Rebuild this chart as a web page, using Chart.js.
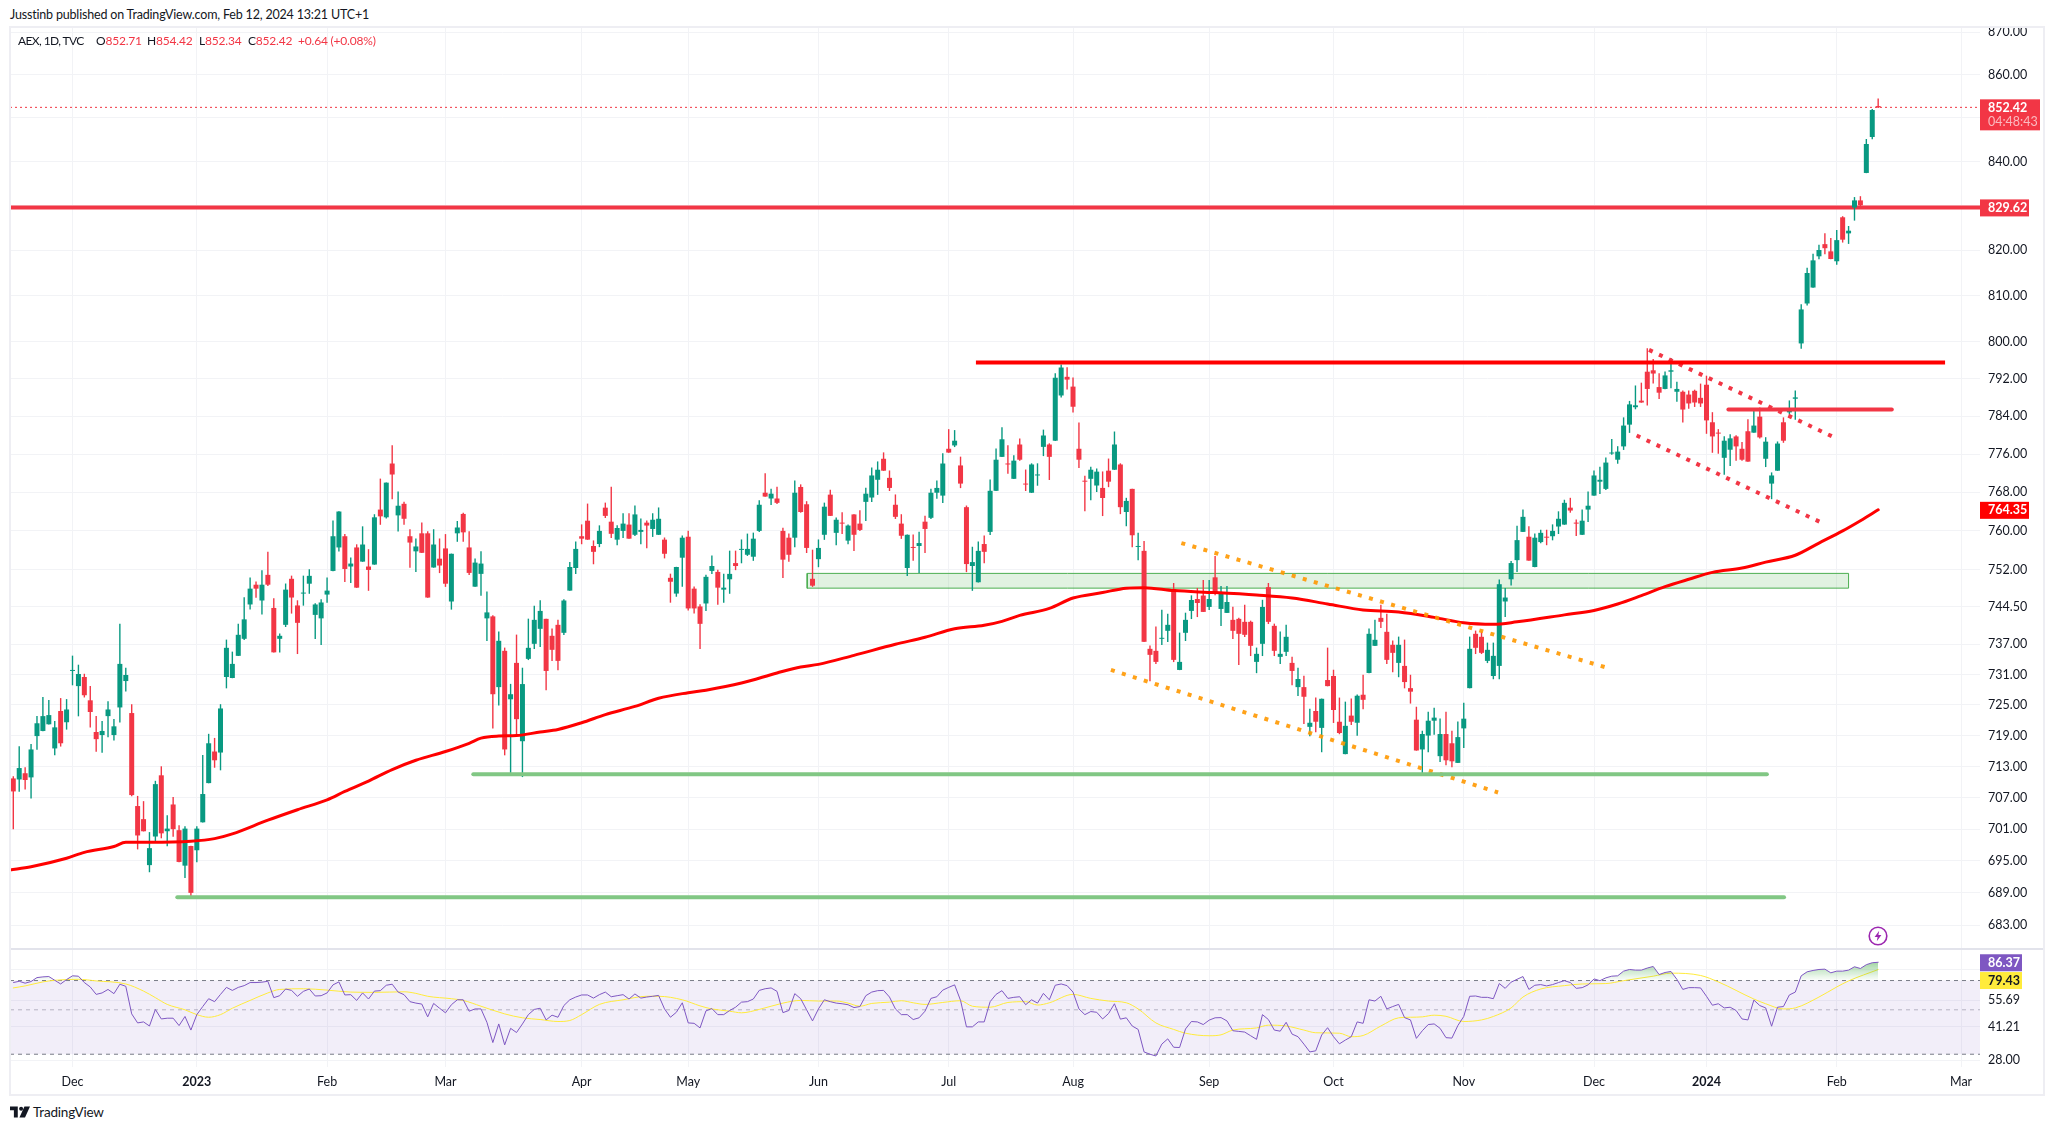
<!DOCTYPE html>
<html>
<head>
<meta charset="utf-8">
<title>AEX 1D</title>
<script src="https://cdn.jsdelivr.net/npm/chart.js@4/dist/chart.umd.js"></script>
<style>
  html, body { margin: 0; padding: 0; background: #fff; width: 2054px; height: 1129px; overflow: hidden; }
  body { font-family: Lato, "Open Sans", sans-serif; color: #131722; }
  canvas { position: absolute; display: block; }
  .txt { position: absolute; white-space: nowrap; font-size: 12px; line-height: 16px; letter-spacing: -0.2px; }
  .red { color: #F23645; }
  #frame { position: absolute; left: 9px; top: 26px; width: 2036px; height: 1070px; box-sizing: border-box; border: 2px solid #eeeef3; pointer-events: none; }
  #sep { position: absolute; left: 11px; top: 948px; width: 2032px; height: 2px; background: #e2e3eb; }
</style>
</head>
<body>
<div class="txt" style="left:10px;top:7px;font-size:12.5px;letter-spacing:-0.18px">Jusstinb published on TradingView.com, Feb 12, 2024 13:21 UTC+1</div>
<canvas id="priceChart" width="2034" height="938" style="left:10px;top:19px"></canvas>
<canvas id="rsiChart" width="2034" height="154" style="left:10px;top:941px"></canvas>
<div id="sep"></div>
<div id="frame"></div>
<div class="txt" style="left:18px;top:33px;letter-spacing:-0.6px">AEX, 1D, TVC</div>
<div class="txt" style="left:96px;top:33px">O<span class="red">852.71</span></div>
<div class="txt" style="left:147px;top:33px">H<span class="red">854.42</span></div>
<div class="txt" style="left:199px;top:33px">L<span class="red">852.34</span></div>
<div class="txt" style="left:248px;top:33px">C<span class="red">852.42</span></div>
<div class="txt red" style="left:298px;top:33px">+0.64 (+0.08%)</div>
<svg style="position:absolute;left:1868px;top:926px" width="20" height="20" viewBox="0 0 20 20">
  <circle cx="10" cy="10" r="8.8" fill="#fff" stroke="#9C27B0" stroke-width="1.6"/>
  <path d="M11.2 4.8 L6.6 11 H9.6 L8.8 15.2 L13.4 9 H10.4 Z" fill="#9C27B0"/>
</svg>
<svg style="position:absolute;left:10px;top:1106px" width="20" height="12" viewBox="0 0 36 20">
  <path d="M0 0 H14 V20 H7 V7 H0 Z M26 0 H36 L27 20 H17 Z" fill="#131722"/>
  <circle cx="20" cy="4" r="3.6" fill="#131722"/>
</svg>
<div class="txt" style="left:33px;top:1104px;font-size:13.5px">TradingView</div>
<script>
// AEX daily candles, one entry per trading session, oldest first
const opens = [
  710.7,710.5,711.7,710.9,718.9,719.9,721.2,716.5,723.8,721.6,
  731.7,728.7,730.5,725.9,719.7,719.1,722.8,719.1,724.5,729.7,
  723.4,705.4,702.9,694.2,699.6,711.3,700.6,705.7,700.8,694.1,
  697.8,697.0,702.3,709.8,715.9,715.7,730.5,730.3,734.7,738.1,
  745.0,749.0,745.8,751.0,744.3,738.1,740.9,750.2,744.8,747.2,
  749.2,742.9,742.2,747.0,751.8,756.6,758.9,752.7,756.6,753.7,
  752.7,753.1,764.4,762.8,774.0,763.2,765.6,758.9,755.8,759.5,
  759.5,752.5,754.3,756.4,745.6,759.5,763.5,756.6,748.6,751.2,
  742.2,742.6,728.5,735.7,726.1,733.3,717.9,734.1,737.1,740.1,
  742.1,738.7,740.9,739.3,747.8,752.4,758.9,762.1,756.9,757.3,
  764.8,761.9,758.2,760.0,761.3,759.2,759.8,761.7,760.4,759.2,
  758.2,750.4,747.2,754.5,758.8,748.2,744.6,745.2,751.8,751.6,
  748.0,750.1,753.4,756.1,755.1,754.7,760.0,767.9,766.7,766.7,
  760.0,758.6,758.6,769.1,765.5,750.2,754.2,759.2,767.5,759.6,
  761.7,758.0,763.4,761.5,766.0,766.9,770.6,775.0,771.0,765.4,
  761.5,752.4,756.7,756.9,761.9,762.7,767.9,767.3,777.1,777.8,
  773.6,764.9,752.8,749.5,757.3,759.8,768.3,775.4,774.0,770.8,
  778.0,769.8,767.9,771.5,777.5,778.0,778.8,788.4,792.4,790.3,
  777.1,770.4,770.8,769.4,768.9,772.5,772.7,773.8,763.9,768.7,
  756.7,755.9,736.1,735.7,738.1,739.7,748.1,731.9,739.3,743.7,
  746.1,746.8,744.5,750.5,744.1,743.3,741.9,742.1,741.5,741.5,
  733.5,737.1,748.5,740.7,734.5,735.5,733.3,728.5,728.5,720.7,
  723.8,720.5,729.9,730.7,721.7,715.4,722.9,721.5,727.0,731.3,
  736.7,742.3,739.5,736.9,733.3,732.7,728.3,722.1,716.3,719.0,
  721.9,715.0,719.3,717.5,713.7,720.4,728.3,739.1,738.5,733.7,
  730.7,732.7,745.6,750.1,754.0,759.8,758.8,752.6,757.7,758.8,
  758.9,760.9,761.3,764.8,761.7,759.2,764.4,767.3,770.2,768.7,
  776.1,774.8,777.6,782.2,785.9,787.3,793.5,793.8,790.2,789.8,
  793.5,789.2,789.2,788.6,789.4,787.9,790.7,782.7,780.5,775.2,
  776.9,779.7,777.1,780.8,780.5,783.9,775.0,769.8,772.5,782.7,
  784.8,787.7,799.6,808.3,811.8,818.7,821.4,819.8,817.6,827.4,
  823.8,829.6,831.2,837.4,845.6,852.71
];
const highs = [
  711.1,716.9,712.8,717.3,722.8,726.5,725.9,721.8,726.3,726.1,
  734.7,732.9,731.1,728.7,722.8,721.8,725.7,722.2,741.1,732.3,
  725.1,707.3,706.3,700.4,710.2,713.0,703.6,707.1,701.7,701.5,
  697.8,701.5,715.2,719.3,718.5,725.1,737.9,735.5,741.1,746.4,
  750.4,749.6,751.9,755.7,746.2,739.1,749.2,750.8,745.8,750.8,
  752.1,745.2,746.0,750.4,762.1,764.0,759.3,754.5,757.2,760.9,
  756.2,763.4,770.8,770.0,777.8,768.1,766.0,760.3,758.4,761.7,
  759.9,760.3,758.4,759.3,755.3,762.0,763.7,759.9,754.3,755.8,
  747.6,742.8,739.5,736.3,729.1,738.9,732.3,742.1,744.7,745.8,
  742.1,740.1,741.9,746.0,753.6,757.8,761.3,765.6,758.0,761.1,
  765.8,769.1,761.1,763.6,763.6,765.2,762.5,762.1,763.6,764.8,
  758.6,751.2,752.6,759.0,760.0,748.6,745.0,751.0,754.9,752.0,
  751.2,755.9,755.9,758.2,759.4,759.6,766.3,771.9,768.7,769.1,
  760.6,759.4,770.4,769.6,766.1,756.1,758.2,765.8,768.5,762.7,
  763.8,761.3,763.4,764.2,768.9,773.1,774.4,776.3,772.5,767.5,
  763.4,759.2,759.2,759.8,763.1,768.7,770.4,776.1,781.2,781.0,
  775.4,765.2,756.7,757.8,759.0,770.6,777.1,781.6,777.8,775.7,
  779.2,772.7,774.0,774.0,781.1,778.2,793.1,795.0,794.4,792.2,
  782.6,771.4,773.3,772.9,772.3,775.0,780.7,774.0,766.8,768.7,
  759.6,757.9,736.7,740.5,743.9,743.1,749.3,739.3,743.3,746.8,
  748.3,749.9,749.9,754.8,748.7,748.7,744.5,742.3,744.9,741.7,
  736.3,745.9,749.3,741.1,739.5,740.9,734.5,732.3,730.7,724.2,
  726.4,726.2,736.3,731.9,726.4,725.6,726.2,727.0,730.9,740.1,
  741.9,744.9,743.1,737.7,738.5,737.9,730.9,724.6,719.9,723.6,
  724.4,722.3,723.6,719.9,721.7,725.4,738.5,739.7,739.5,737.3,
  737.3,750.0,748.3,753.8,761.0,764.4,760.9,759.4,760.2,760.2,
  761.3,764.0,766.4,766.8,762.3,764.4,768.1,772.5,773.3,775.2,
  779.1,777.6,783.7,787.2,790.5,791.1,798.5,796.2,793.1,793.5,
  796.4,791.3,789.4,789.4,789.6,790.9,792.6,784.8,781.2,779.7,
  780.1,779.9,778.5,783.3,785.4,785.8,779.5,772.1,778.6,783.7,
  787.3,789.4,808.1,816.1,819.2,821.2,823.8,822.7,824.5,827.6,
  825.4,831.9,832.1,845.1,852.0,854.42
];
const lows = [
  701.0,708.2,708.6,706.9,716.3,719.9,721.2,715.2,716.9,720.2,
  728.9,722.8,726.5,720.6,715.9,715.7,718.7,718.1,721.6,727.7,
  707.3,697.2,700.6,692.9,698.7,699.3,697.8,699.6,694.8,691.8,
  688.4,694.8,702.3,709.8,712.8,712.3,728.3,730.3,734.7,737.9,
  744.0,746.4,743.0,748.8,735.4,735.4,740.5,743.2,735.1,744.8,
  747.2,738.1,736.9,745.4,751.8,755.8,749.6,749.4,748.4,753.7,
  747.8,753.1,761.3,762.6,766.6,759.9,761.3,752.5,751.6,755.5,
  746.4,752.5,751.4,748.6,744.0,757.8,757.8,751.0,748.6,746.8,
  737.7,720.4,724.9,715.2,711.8,719.2,711.0,733.9,736.1,736.5,
  727.9,733.7,731.9,738.9,747.8,751.2,757.3,758.2,753.2,756.7,
  762.7,758.6,757.1,758.6,758.4,759.0,757.3,756.5,758.8,759.2,
  754.4,745.4,746.6,748.6,743.8,743.2,736.1,743.7,751.2,745.0,
  745.4,747.2,752.0,753.4,754.9,753.9,759.8,767.1,765.4,765.6,
  750.4,753.7,756.7,763.8,755.5,748.6,752.6,758.2,763.1,757.1,
  759.4,757.3,755.9,760.0,762.1,766.0,767.5,772.5,768.3,762.5,
  758.4,750.8,753.9,751.4,755.5,762.5,766.7,765.8,776.3,777.5,
  768.9,751.6,747.8,749.5,753.4,759.2,768.3,775.4,771.9,770.8,
  774.6,768.3,767.9,769.4,775.6,770.6,778.8,788.0,789.7,784.8,
  773.1,764.1,766.4,768.1,763.1,769.1,772.7,763.5,761.0,756.7,
  754.0,737.5,729.7,733.1,736.9,737.5,733.5,731.9,737.7,742.1,
  742.5,743.5,743.9,746.9,740.7,743.3,738.1,732.9,738.5,734.7,
  731.3,734.7,741.1,734.7,733.1,734.7,728.9,726.8,721.3,718.9,
  719.7,715.8,728.7,721.5,719.3,715.4,721.1,719.0,724.2,731.3,
  736.7,740.3,733.1,731.5,730.5,728.3,725.3,716.1,711.8,715.8,
  719.2,713.9,713.3,712.9,713.7,716.6,728.3,735.1,735.1,733.3,
  730.1,730.1,742.5,748.9,751.6,759.8,753.9,752.6,757.5,757.1,
  758.1,759.4,761.3,763.8,759.0,759.2,761.9,767.3,767.7,768.5,
  775.9,774.0,776.9,780.5,785.5,786.9,786.3,791.0,787.7,789.8,
  790.0,787.1,782.7,785.6,786.0,786.0,780.3,776.3,776.1,771.7,
  773.5,774.6,774.6,774.4,780.5,779.3,773.3,766.6,772.5,778.4,
  784.4,783.3,798.5,807.9,811.8,818.1,819.2,818.1,816.9,821.8,
  821.5,826.7,829.6,837.4,845.1,852.34
];
const closes = [
  708.2,712.7,710.4,716.3,721.4,722.8,723.0,720.6,717.5,724.1,
  731.9,731.1,726.9,723.6,718.3,719.9,724.1,720.8,733.1,730.9,
  707.5,699.8,700.6,697.4,709.6,700.2,701.1,701.0,694.8,701.1,
  689.0,701.1,707.7,717.5,714.2,724.3,736.3,733.1,738.9,742.0,
  748.2,748.2,749.0,749.0,735.4,738.7,748.0,746.4,741.3,747.4,
  750.8,745.0,745.4,747.8,758.9,764.0,752.2,753.3,748.4,757.2,
  752.0,762.8,763.0,770.0,771.7,765.2,762.5,757.6,756.8,755.5,
  746.4,757.2,752.9,749.2,755.3,760.7,759.7,751.4,753.5,753.3,
  743.4,727.1,737.7,716.3,727.1,722.2,729.1,736.3,741.9,743.7,
  731.7,735.9,733.7,745.8,752.6,756.3,758.4,758.2,755.7,760.0,
  763.1,759.4,760.6,761.5,758.4,763.4,760.2,761.1,762.3,762.5,
  755.3,749.6,752.6,758.6,744.2,744.2,741.1,750.6,752.8,748.4,
  748.4,751.2,752.8,756.3,756.3,758.4,765.4,767.1,767.7,765.8,
  754.1,755.1,767.9,763.9,756.5,748.8,756.5,765.0,763.1,762.3,
  761.5,761.1,759.2,760.2,767.7,771.5,772.7,772.5,768.9,762.9,
  759.0,759.2,756.5,757.5,760.4,767.9,768.9,774.0,776.3,778.8,
  769.8,753.2,753.6,755.9,755.7,768.3,774.8,779.1,773.8,774.6,
  774.8,769.6,773.8,771.7,779.9,775.4,792.2,794.4,791.8,786.0,
  774.8,770.2,772.7,772.3,766.8,770.2,778.0,764.9,766.2,759.1,
  756.9,737.5,734.9,733.5,738.3,740.9,733.9,733.5,741.9,745.9,
  745.3,743.5,746.1,747.3,747.3,745.5,739.7,739.1,738.9,736.7,
  735.1,744.5,741.5,735.7,735.1,738.5,731.7,730.1,726.6,721.5,
  721.7,726.2,728.7,724.0,719.5,720.9,721.7,726.8,726.0,739.1,
  737.9,741.5,733.9,735.3,736.9,729.5,727.6,716.1,719.3,721.9,
  722.5,719.3,714.2,714.0,718.7,722.3,736.1,736.3,735.3,735.9,
  734.7,749.1,746.4,753.4,758.1,762.9,753.9,758.6,759.6,758.6,
  760.0,762.5,765.8,764.2,761.5,762.1,765.2,771.5,770.6,774.2,
  776.3,776.5,782.0,786.5,786.3,786.9,789.8,793.1,789.0,792.7,
  793.8,789.8,785.4,786.7,786.9,786.7,783.1,779.7,780.3,778.8,
  779.3,777.6,774.8,774.4,782.0,779.5,778.6,771.5,778.2,778.8,
  785.6,788.0,807.0,815.0,817.8,820.1,820.5,818.1,822.3,822.4,
  824.4,831.2,830.1,844.0,851.8,852.42
];

// 200 day average, read at a handful of sessions along the curve
const emaBars = [-0.557,3,9,12,17,19,23,30,34,37,43,48,53,56,60,64,68,73,77,79,82,85,89,92,96,100,105,109,114,117,123,129,133,136,142,149,154,159,164,167,170,175,179,184,188,191,196,203,210,216,222,228,234,240,245,250,254,262,267,271,275,279,283,287,292,296,301,305,309,312,315];
const emaValues = [693.3,693.9,695.5,696.6,697.7,698.5,698.5,698.7,699.2,700.1,702.7,704.7,706.6,708.2,710.2,712.4,714.2,715.9,717.5,718.5,718.9,719.0,719.7,720.2,721.5,723.1,724.7,726.3,727.4,727.9,729.3,731.3,732.5,733.0,734.8,737.0,738.4,740.1,740.8,741.6,742.8,744.2,746.3,747.4,748.3,748.4,747.8,747.4,746.9,746.3,745.1,743.9,743.5,742.4,741.3,741.0,741.5,742.9,743.8,745.1,746.8,748.6,750.1,751.5,752.4,753.6,755.0,757.5,760.0,762.1,764.35];

// RSI(14), one value per session
const rsiValues = [
  68.4,69.4,67.9,69.2,72.4,73.0,73.3,70.2,67.3,70.8,
  73.9,73.6,68.4,65.0,59.7,60.7,63.2,60.2,67.1,65.5,
  47.7,43.0,43.5,41.5,50.2,45.0,45.4,45.4,41.7,46.3,
  39.6,47.3,51.9,56.8,54.9,59.7,64.7,62.5,64.7,66.0,
  68.4,68.4,68.7,69.4,57.5,58.8,63.5,62.5,58.4,61.8,
  63.5,58.6,58.8,60.7,66.6,68.9,59.3,59.5,55.7,60.7,
  56.6,62.0,62.3,66.3,67.1,61.3,59.5,54.9,54.0,53.4,
  46.1,53.8,50.9,48.3,53.0,56.1,56.1,49.2,50.5,50.5,
  43.3,34.3,42.5,33.4,40.4,38.5,42.5,47.3,50.2,50.9,
  44.5,47.0,45.9,52.5,56.1,57.9,59.3,59.3,57.2,59.5,
  61.3,58.1,58.8,59.5,56.6,60.0,57.2,57.9,58.4,59.0,
  50.5,45.9,48.6,54.2,43.0,42.8,40.6,49.4,50.7,47.3,
  47.3,49.6,51.5,54.6,54.9,56.6,62.5,63.7,64.3,61.8,
  48.4,49.6,60.2,56.8,50.0,44.0,50.5,56.1,54.9,54.0,
  53.6,53.0,51.3,51.9,58.8,61.3,62.3,62.5,57.9,50.5,
  47.3,47.3,44.7,45.6,49.2,57.0,58.1,62.7,64.7,66.6,
  55.7,41.1,41.1,43.5,43.5,54.9,59.7,62.3,57.0,57.7,
  58.1,53.0,56.1,54.0,60.4,56.1,66.3,67.3,66.0,61.3,
  50.5,47.3,49.0,48.6,45.0,47.9,53.6,44.9,45.6,41.5,
  39.9,30.8,30.0,29.4,33.7,35.8,32.5,32.4,40.1,43.7,
  43.5,42.2,44.4,45.6,45.7,44.0,39.3,39.0,38.7,37.1,
  35.6,47.3,44.7,39.6,39.1,43.3,37.8,36.7,33.7,30.8,
  31.2,37.4,40.7,36.7,33.8,35.3,36.7,43.5,42.8,56.1,
  55.3,58.4,50.5,51.9,53.2,45.7,44.5,36.0,39.3,42.2,
  42.5,40.4,36.3,36.1,41.7,46.3,58.4,58.6,57.7,57.7,
  56.8,67.6,64.0,68.7,71.0,73.3,63.2,66.3,66.8,65.8,
  66.8,68.4,69.9,68.4,64.0,64.5,66.6,71.3,69.9,72.2,
  73.6,73.9,78.0,79.5,78.9,78.9,80.8,82.3,75.0,76.8,
  77.7,71.0,63.2,64.5,64.5,64.3,58.4,52.7,53.6,51.1,
  51.5,49.6,45.0,44.5,55.9,52.5,51.1,41.4,51.5,51.9,
  59.3,61.3,73.9,77.4,78.6,79.5,79.8,76.5,78.0,78.0,
  78.9,82.0,80.4,84.0,85.9,86.37
];
// smoothing line of the RSI
const rsiMaBars = [0,2,5,7,11,14,19,22,24,26,29,31,33,35,37,40,43,45,49,53,57,61,66,68,70,74,76,79,83,86,89,92,94,96,99,103,107,109,113,116,118,121,123,126,130,133,136,139,141,143,145,148,150,152,154,157,160,162,165,168,171,173,175,179,182,185,188,190,193,196,198,202,204,206,210,212,215,218,220,224,226,228,231,234,236,238,240,242,245,248,250,253,255,258,262,265,269,272,277,280,285,288,294,296,299,301,305,308,310,315];
const rsiMaValues = [64.3,65.8,68.9,70.2,71.0,69.7,67.3,62.0,57.5,53.2,50.0,47.3,45.9,47.3,50.9,55.7,60.7,63.2,63.7,62.7,61.3,61.1,61.5,60.4,58.4,56.8,55.7,52.1,47.7,45.6,44.7,43.7,44.2,47.3,53.2,56.1,58.4,58.4,56.1,52.3,50.5,49.2,48.3,50.2,54.0,55.7,55.3,55.3,54.0,52.1,53.8,54.6,55.5,54.2,53.2,54.4,55.5,52.1,51.5,54.4,54.9,52.8,54.2,59.7,57.0,55.3,54.2,50.5,43.0,39.9,38.2,37.1,37.5,39.6,40.6,41.9,41.5,39.6,38.4,38.2,36.7,37.2,41.5,45.6,45.9,46.1,47.0,46.4,43.7,44.5,46.3,51.1,57.9,63.5,66.0,67.3,67.6,69.9,73.6,76.2,74.2,68.9,56.6,53.6,50.5,51.1,57.9,65.0,69.7,79.43];

// drawn levels and trend lines: [firstBar, lastBar] and [firstPrice, lastPrice]
const resistanceHighBars = [162.6, 326.3];
const resistanceHighPrices = [795.5, 795.5];
const resistanceShortBars = [289.7, 317.3];
const resistanceShortPrices = [785.4, 785.4];
const athLevel = 829.62;
const lastPrice = 852.42;
const supportUpperBars = [77.7, 296.2];
const supportUpperPrices = [711.5, 711.5];
const supportLowerBars = [27.7, 299.1];
const supportLowerPrices = [688.2, 688.2];
const zoneBars = [134.1, 310];
const zonePrices = [748.3, 751.3];
const orangeUpperBars = [197.3, 269.9];
const orangeUpperPrices = [757.5, 732.1];
const orangeLowerBars = [185.4, 250.8];
const orangeLowerPrices = [731.9, 708.0];
const redUpperBars = [276.3, 307.6];
const redUpperPrices = [798.2, 779.5];
const redLowerBars = [274.2, 305.6];
const redLowerPrices = [779.9, 761.6];

// axes
const priceTicks = [870,860,850,840,830,820,810,800,792,784,776,768,760,752,744.5,737,731,725,719,713,707,701,695,689,683];
const priceTicksUnderTags = [850, 830];
const rsiTicks = [79.43, 55.69, 41.21, 28];
const rsiTicksUnderTags = [79.43];
const monthBars = [10,31,53,73,96,114,136,158,179,202,223,245,267,286,308,329];
const monthLabels = ['Dec','2023','Feb','Mar','Apr','May','Jun','Jul','Aug','Sep','Oct','Nov','Dec','2024','Feb','Mar'];

const GREEN = '#089981';
const RED = '#F23645';
const GRID = '#f2f3f6';
const AXIS_FONT = 'Lato, "Open Sans", sans-serif';
const BAR_MIN = -0.557;
const BAR_MAX = 332.2;

const bars = opens.map((_, i) => i);
const candleColors = bars.map(i => (closes[i] >= opens[i] ? GREEN : RED));
const toPoints = (xs, ys) => xs.map((x, i) => ({ x, y: ys[i] }));

function lineSet(xs, ys, color, width, extra) {
  return Object.assign({
    type: 'line',
    data: toPoints(xs, ys),
    borderColor: color,
    backgroundColor: color,
    borderWidth: width,
    pointRadius: 0,
    tension: 0,
    fill: false,
    order: 2,
    borderCapStyle: 'round'
  }, extra || {});
}

function xAxis(showLabels) {
  return {
    type: 'linear',
    offset: false,
    min: BAR_MIN,
    max: BAR_MAX,
    afterBuildTicks: s => { s.ticks = monthBars.map(v => ({ value: v })); },
    afterFit: s => {
      s.height = showLabels ? 28 : 0;
      s.paddingLeft = 0;
      s.paddingRight = 0;
    },
    border: { display: false },
    grid: { color: GRID, drawTicks: false, offset: false },
    ticks: {
      display: showLabels,
      autoSkip: false,
      maxRotation: 0,
      padding: 7,
      color: '#131722',
      font: ctx => ({ family: AXIS_FONT, size: 12.5, weight: /^\d/.test(monthLabels[ctx.index]) ? 'bold' : 'normal' }),
      callback: (v, i) => monthLabels[i]
    }
  };
}

function yAxis(min, max, tickValues, hidden) {
  return {
    type: 'logarithmic',
    position: 'right',
    min, max,
    afterBuildTicks: s => { s.ticks = tickValues.map(v => ({ value: v })); },
    afterFit: s => {
      // the pane edges have to stay where they are, labels may run past them
      s.width = 64;
      s.paddingTop = 0;
      s.paddingBottom = 0;
    },
    border: { display: false },
    grid: { color: GRID, drawTicks: false },
    ticks: {
      autoSkip: false,
      padding: 8,
      crossAlign: 'near',
      color: '#131722',
      font: { family: AXIS_FONT, size: 12.5 },
      callback: v => (hidden.includes(v) ? '' : v.toFixed(2))
    }
  };
}

// price tags on the right axis
function drawTag(chart, value, width, fill, lines, shift) {
  const y = chart.scales.y;
  const c = chart.ctx;
  const py = y.getPixelForValue(value) + (shift || 0);
  const h = lines.length > 1 ? 31 : 17;
  c.save();
  c.fillStyle = fill;
  c.fillRect(y.left, py - 8, width, h);
  c.textBaseline = 'middle';
  c.textAlign = 'left';
  lines.forEach((l, i) => {
    c.font = (i === 0 ? 'bold ' : '') + '12.5px ' + AXIS_FONT;
    c.fillStyle = l.color;
    c.fillText(l.text, y.left + 8, py + 0.5 + i * 14.5);
  });
  c.restore();
}

const WHITE = '#ffffff';
new Chart(document.getElementById('priceChart'), {
  type: 'bar',
  data: {
    datasets: [
      // last price and main level sit at the back
      lineSet([BAR_MIN, BAR_MAX], [lastPrice, lastPrice], RED, 1, { borderDash: [2, 3], borderCapStyle: 'butt', order: 9 }),
      lineSet([BAR_MIN, BAR_MAX], [athLevel, athLevel], RED, 4, { borderCapStyle: 'butt', order: 8 }),
      lineSet([zoneBars[0], zoneBars[1], zoneBars[1], zoneBars[0], zoneBars[0]],
              [zonePrices[0], zonePrices[0], zonePrices[1], zonePrices[1], zonePrices[0]],
              '#4CAF50', 1, { fill: 'shape', backgroundColor: 'rgba(76,175,80,0.17)', order: 7 }),
      {
        data: bars.map(i => ({ x: i, y: [lows[i], highs[i]] })),
        backgroundColor: candleColors,
        barThickness: 1,
        grouped: false,
        inflateAmount: 0.2,
        order: 6
      },
      {
        data: bars.map(i => ({ x: i, y: [opens[i], closes[i]] })),
        backgroundColor: candleColors,
        barThickness: 5,
        grouped: false,
        minBarLength: 1,
        inflateAmount: 0,
        order: 5
      },
      lineSet(emaBars, emaValues, '#FF0000', 3, { cubicInterpolationMode: 'monotone', order: 4 }),
      lineSet(supportUpperBars, supportUpperPrices, '#81C784', 4),
      lineSet(supportLowerBars, supportLowerPrices, '#81C784', 4),
      lineSet(resistanceHighBars, resistanceHighPrices, '#FF0000', 4, { borderCapStyle: 'butt' }),
      lineSet(resistanceShortBars, resistanceShortPrices, RED, 4),
      lineSet(orangeUpperBars, orangeUpperPrices, 'rgba(255,152,0,0.9)', 4, { borderDash: [4, 7.5], borderCapStyle: 'butt' }),
      lineSet(orangeLowerBars, orangeLowerPrices, 'rgba(255,152,0,0.9)', 4, { borderDash: [4, 7.5], borderCapStyle: 'butt' }),
      lineSet(redUpperBars, redUpperPrices, RED, 4, { borderDash: [4, 7], borderCapStyle: 'butt' }),
      lineSet(redLowerBars, redLowerPrices, RED, 4, { borderDash: [4, 7], borderCapStyle: 'butt' })
    ]
  },
  options: {
    responsive: false,
    animation: false,
    layout: { padding: { top: 8, bottom: 8, left: 0, right: 0 } },
    plugins: { legend: { display: false }, tooltip: { enabled: false } },
    scales: {
      x: xAxis(false),
      y: yAxis(678.6, 871.18, priceTicks, priceTicksUnderTags)
    }
  },
  plugins: [{
    id: 'priceTags',
    afterDraw(chart) {
      drawTag(chart, lastPrice, 60, RED, [{ text: '852.42', color: WHITE }, { text: '04:48:43', color: 'rgba(255,255,255,0.65)' }]);
      drawTag(chart, athLevel, 49, RED, [{ text: '829.62', color: WHITE }]);
      drawTag(chart, 764.35, 49, '#FF0000', [{ text: '764.35', color: WHITE }]);
    }
  }]
});

// RSI pane
const rsiCanvas = document.getElementById('rsiChart');
const overbought = rsiCanvas.getContext('2d').createLinearGradient(0, 20, 0, 40);
overbought.addColorStop(0, 'rgba(76,175,80,0.55)');
overbought.addColorStop(1, 'rgba(76,175,80,0)');

new Chart(rsiCanvas, {
  type: 'line',
  data: {
    datasets: [
      lineSet([BAR_MIN, BAR_MAX], [70, 70], '#787B86', 1, { borderDash: [4, 4], borderCapStyle: 'butt', order: 5 }),
      lineSet([BAR_MIN, BAR_MAX], [30, 30], '#787B86', 1, { borderDash: [4, 4], borderCapStyle: 'butt', fill: '-1', backgroundColor: 'rgba(126,87,194,0.1)', order: 5 }),
      lineSet([BAR_MIN, BAR_MAX], [50, 50], 'rgba(120,123,134,0.5)', 1, { borderDash: [4, 4], borderCapStyle: 'butt', order: 5 }),
      lineSet(bars, rsiValues, '#7E57C2', 1, {
        fill: { target: { value: 70 }, above: overbought, below: 'transparent' },
        order: 2
      }),
      lineSet(rsiMaBars, rsiMaValues, '#FFEB3B', 1, { cubicInterpolationMode: 'monotone', order: 3 })
    ]
  },
  options: {
    responsive: false,
    animation: false,
    layout: { padding: { top: 8, bottom: 0, left: 0, right: 0 } },
    plugins: { legend: { display: false }, tooltip: { enabled: false } },
    scales: {
      x: xAxis(true),
      y: yAxis(25.9, 100.6, rsiTicks, rsiTicksUnderTags)
    }
  },
  plugins: [{
    id: 'rsiTags',
    afterDraw(chart) {
      drawTag(chart, 86.37, 42, '#7E57C2', [{ text: '86.37', color: WHITE }]);
      drawTag(chart, 79.43, 42, '#FFEB3B', [{ text: '79.43', color: '#131722' }], 10.5);
    }
  }]
});
</script>
</body>
</html>
